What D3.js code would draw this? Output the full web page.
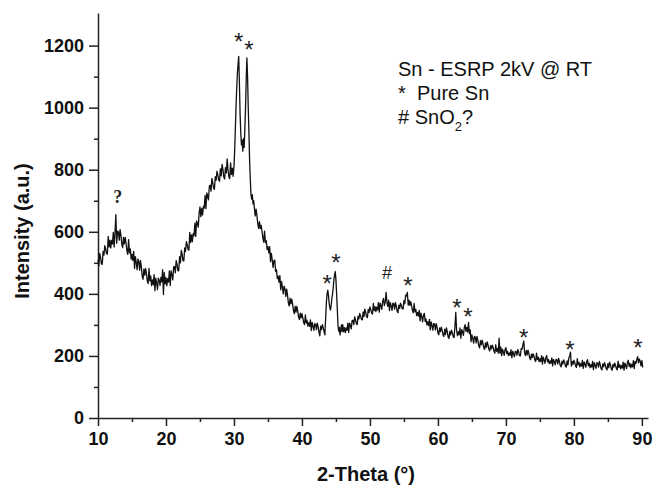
<!DOCTYPE html>
<html>
<head>
<meta charset="utf-8">
<script src="https://cdn.jsdelivr.net/npm/d3@7"></script>
<style>
    body { margin: 0; background: #fff; }
    #chart-area { width: 655px; height: 486px; }
</style>
</head>
<body>
<div id="chart-area"></div>
<script>
// XRD scan: [2-theta (deg), intensity (a.u.)]
let scan = [
    [10.000,510],[10.125,490],[10.250,530],[10.375,518],[10.500,497],[10.625,495],[10.750,537],[10.875,525],
    [11.000,555],[11.125,545],[11.250,530],[11.375,528],[11.500,585],[11.625,551],[11.750,573],[11.875,548],
    [12.000,572],[12.125,561],[12.250,598],[12.375,551],[12.500,597],[12.625,655],[12.750,563],[12.875,602],
    [13.000,600],[13.125,573],[13.250,607],[13.375,588],[13.500,560],[13.625,549],[13.750,582],[13.875,561],
    [14.000,582],[14.125,563],[14.250,539],[14.375,527],[14.500,575],[14.625,532],[14.750,545],[14.875,512],
    [15.000,527],[15.125,508],[15.250,537],[15.375,482],[15.500,520],[15.625,501],[15.750,478],[15.875,512],
    [16.000,505],[16.125,476],[16.250,507],[16.375,487],[16.500,457],[16.625,447],[16.750,480],[16.875,460],
    [17.000,482],[17.125,465],[17.250,442],[17.375,433],[17.500,482],[17.625,442],[17.750,458],[17.875,427],
    [18.000,445],[18.125,429],[18.250,462],[18.375,410],[18.500,451],[18.625,435],[18.750,414],[18.875,451],
    [19.000,444],[19.125,427],[19.250,453],[19.375,439],[19.500,478],[19.625,398],[19.750,469],[19.875,432],
    [20.000,452],[20.125,426],[20.250,449],[20.375,438],[20.500,474],[20.625,427],[20.750,474],[20.875,462],
    [21.000,445],[21.125,487],[21.250,488],[21.375,468],[21.500,507],[21.625,496],[21.750,475],[21.875,474],
    [22.000,520],[22.125,500],[22.250,540],[22.375,528],[22.500,507],[22.625,506],[22.750,548],[22.875,537],
    [23.000,568],[23.125,558],[23.250,543],[23.375,541],[23.500,598],[23.625,566],[23.750,590],[23.875,568],
    [24.000,594],[24.125,587],[24.250,628],[24.375,585],[24.500,635],[24.625,627],[24.750,615],[24.875,660],
    [25.000,680],[25.125,649],[25.250,675],[25.375,654],[25.500,682],[25.625,676],[25.750,717],[25.875,675],
    [26.000,725],[26.125,716],[26.250,703],[26.375,747],[26.500,750],[26.625,731],[26.750,772],[26.875,760],
    [27.000,740],[27.125,737],[27.250,778],[27.375,766],[27.500,795],[27.625,783],[27.750,767],[27.875,763],
    [28.000,803],[28.125,780],[28.250,817],[28.375,801],[28.500,777],[28.625,770],[28.750,807],[28.875,790],
    [29.000,835],[29.125,799],[29.250,778],[29.375,771],[29.500,822],[29.625,785],[29.750,805],[29.875,779],
    [30.0,810],[30.1,860],[30.2,930],[30.3,1000],[30.4,1060],[30.5,1110],[30.6,1140],[30.7,1165],
    [30.8,1080],[30.9,980],[31.0,920],[31.1,880],[31.2,895],[31.3,860],[31.4,900],[31.5,872],
    [31.6,930],[31.7,1000],[31.8,1090],[31.9,1160],[32.0,1100],[32.1,1000],[32.2,920],[32.3,830],
    [32.4,770],[32.5,720],[32.6,705],[32.7,720],[32.8,690],[32.9,700],
    [33.000,677],[33.125,651],[33.250,673],[33.375,652],[33.500,626],[33.625,611],[33.750,633],[33.875,610],
    [34.000,621],[34.125,602],[34.250,580],[34.375,567],[34.500,602],[34.625,565],[34.750,572],[34.875,543],
    [35.000,552],[35.125,532],[35.250,552],[35.375,504],[35.500,530],[35.625,510],[35.750,485],[35.875,507],
    [36.000,509],[36.125,472],[36.250,478],[36.375,449],[36.500,457],[36.625,438],[36.750,459],[36.875,413],
    [37.000,440],[37.125,422],[37.250,400],[37.375,425],[37.500,417],[37.625,392],[37.750,415],[37.875,396],
    [38.000,371],[38.125,361],[38.250,386],[38.375,368],[38.500,383],[38.625,367],[38.750,346],[38.875,336],
    [39.000,360],[39.125,341],[39.250,360],[39.375,345],[39.500,326],[39.625,317],[39.750,338],[39.875,323],
    [40.000,336],[40.125,323],[40.250,308],[40.375,301],[40.500,332],[40.625,306],[40.750,315],[40.875,296],
    [41.000,307],[41.125,295],[41.250,316],[41.375,282],[41.500,308],[41.625,296],[41.750,282],[41.875,304],
    [42.000,302],[42.125,285],[42.250,306],[42.375,294],[42.500,277],[42.625,265],[42.750,296],[42.875,285],
    [43.000,301],[43.125,291],[43.250,279],[43.375,268],
    [43.5,330],[43.6,375],[43.7,400],[43.8,412],[43.9,395],[44.0,370],[44.1,355],[44.2,348],
    [44.3,365],[44.4,385],[44.5,400],[44.6,420],[44.7,445],[44.8,462],[44.9,472],[45.0,445],
    [45.1,400],[45.2,350],[45.3,300],[45.4,280],[45.5,292],[45.6,268],[45.7,285],[45.8,300],[45.9,278],
    [46.000,301],[46.125,278],[46.250,291],[46.375,275],[46.500,290],[46.625,282],[46.750,306],[46.875,276],
    [47.000,306],[47.125,298],[47.250,287],[47.375,314],[47.500,315],[47.625,301],[47.750,326],[47.875,317],
    [48.000,304],[48.125,301],[48.250,328],[48.375,319],[48.500,337],[48.625,329],[48.750,318],[48.875,316],
    [49.000,342],[49.125,327],[49.250,351],[49.375,341],[49.500,327],[49.625,324],[49.750,350],[49.875,340],
    [50.000,358],[50.125,349],[50.250,338],[50.375,335],[50.500,369],[50.625,346],[50.750,359],[50.875,343],
    [51.000,357],[51.125,348],[51.250,372],[51.375,341],[51.500,370],[51.625,362],[51.750,350],[51.875,376],
    [52.000,385],[52.125,362],[52.250,374],[52.375,405],[52.500,372],[52.625,360],[52.750,380],[52.875,346],
    [53.000,372],[53.125,361],[53.250,347],[53.375,370],[53.500,368],[53.625,351],[53.750,372],[53.875,361],
    [54.000,344],[54.125,339],[54.250,364],[54.375,353],[54.500,370],[54.625,363],[54.750,352],[54.875,351],
    [55.000,378],[55.125,368],[55.250,396],[55.375,393],[55.500,405],[55.625,364],[55.750,380],[55.875,363],
    [56.000,375],[56.125,362],[56.250,346],[56.375,339],[56.500,369],[56.625,342],[56.750,350],[56.875,330],
    [57.000,340],[57.125,328],[57.250,347],[57.375,313],[57.500,338],[57.625,326],[57.750,310],[57.875,332],
    [58.000,337],[58.125,311],[58.250,319],[58.375,300],[58.500,310],[58.625,298],[58.750,318],[58.875,284],
    [59.000,310],[59.125,298],[59.250,283],[59.375,305],[59.500,302],[59.625,284],[59.750,304],[59.875,292],
    [60.000,274],[60.125,268],[60.250,290],[60.375,278],[60.500,293],[60.625,282],[60.750,268],[60.875,263],
    [61.000,286],[61.125,269],[61.250,290],[61.375,278],[61.500,261],[61.625,256],[61.750,279],[61.875,268],
    [62.000,283],[62.125,274],[62.250,262],[62.375,259],[62.500,294],[62.625,340],[62.750,282],[62.875,265],
    [63.000,278],[63.125,268],[63.250,290],[63.375,257],[63.500,285],[63.625,277],[63.750,266],[63.875,291],
    [64.000,301],[64.125,279],[64.250,292],[64.375,277],[64.500,308],[64.625,272],[64.750,284],[64.875,246],
    [65.000,268],[65.125,256],[65.250,241],[65.375,263],[65.500,260],[65.625,242],[65.750,263],[65.875,250],
    [66.000,233],[66.125,226],[66.250,249],[66.375,236],[66.500,251],[66.625,240],[66.750,226],[66.875,221],
    [67.000,242],[67.125,228],[67.250,245],[67.375,235],[67.500,221],[67.625,216],[67.750,233],[67.875,223],
    [68.000,235],[68.125,227],[68.250,215],[68.375,209],[68.500,236],[68.625,215],[68.750,224],[68.875,209],
    [69.000,257],[69.125,209],[69.250,228],[69.375,201],[69.500,222],[69.625,213],[69.750,202],[69.875,221],
    [70.000,227],[70.125,207],[70.250,215],[70.375,201],[70.500,210],[70.625,202],[70.750,220],[70.875,194],
    [71.000,215],[71.125,207],[71.250,197],[71.375,215],[71.500,214],[71.625,202],[71.750,221],[71.875,213],
    [72.000,201],[72.125,200],[72.250,224],[72.375,222],[72.500,236],[72.625,248],[72.750,210],[72.875,201],
    [73.000,218],[73.125,203],[73.250,219],[73.375,208],[73.500,193],[73.625,188],[73.750,206],[73.875,195],
    [74.000,207],[74.125,199],[74.250,187],[74.375,182],[74.500,209],[74.625,188],[74.750,196],[74.875,182],
    [75.000,191],[75.125,182],[75.250,201],[75.375,174],[75.500,196],[75.625,187],[75.750,176],[75.875,195],
    [76.000,201],[76.125,181],[76.250,189],[76.375,175],[76.500,184],[76.625,176],[76.750,194],[76.875,168],
    [77.000,189],[77.125,181],[77.250,171],[77.375,189],[77.500,188],[77.625,174],[77.750,192],[77.875,182],
    [78.000,169],[78.125,165],[78.250,183],[78.375,174],[78.500,187],[78.625,180],[78.750,168],[78.875,164],
    [79.000,184],[79.125,171],[79.250,193],[79.375,200],[79.500,212],[79.625,167],[79.750,182],[79.875,173],
    [80.000,186],[80.125,179],[80.250,167],[80.375,163],[80.500,191],[80.625,171],[80.750,180],[80.875,165],
    [81.000,175],[81.125,167],[81.250,186],[81.375,160],[81.500,181],[81.625,173],[81.750,163],[81.875,181],
    [82.000,188],[82.125,168],[82.250,177],[82.375,162],[82.500,172],[82.625,164],[82.750,182],[82.875,156],
    [83.000,178],[83.125,170],[83.250,160],[83.375,178],[83.500,177],[83.625,164],[83.750,182],[83.875,172],
    [84.000,159],[84.125,155],[84.250,174],[84.375,165],[84.500,178],[84.625,170],[84.750,159],[84.875,155],
    [85.000,175],[85.125,162],[85.250,180],[85.375,171],[85.500,158],[85.625,154],[85.750,173],[85.875,164],
    [86.000,177],[86.125,170],[86.250,159],[86.375,155],[86.500,183],[86.625,163],[86.750,172],[86.875,158],
    [87.000,169],[87.125,161],[87.250,180],[87.375,154],[87.500,177],[87.625,169],[87.750,159],[87.875,178],
    [88.000,186],[88.125,166],[88.250,176],[88.375,162],[88.500,173],[88.625,165],[88.750,185],[88.875,159],
    [89.000,182],[89.125,176],[89.250,188],[89.375,198],[89.500,178],[89.625,190],[89.750,183],[89.875,168],
    [90.000,185],[90.125,163]
];

// peak markers: [2-theta, intensity, symbol]
let peakMarks = [
    [12.9, 713, "?"],
    [30.7, 1229, "*"], [32.2, 1203, "*"],
    [43.7, 448, "*"], [45.0, 516, "*"],
    [52.5, 468, "#"], [55.6, 442, "*"],
    [62.8, 371, "*"], [64.4, 342, "*"],
    [72.6, 274, "*"], [79.4, 235, "*"], [89.4, 242, "*"]
];

let xMajor = [10, 20, 30, 40, 50, 60, 70, 80, 90];
let xMinor = [15, 25, 35, 45, 55, 65, 75, 85];
let yMajor = [0, 200, 400, 600, 800, 1000, 1200];
let yMinor = [100, 300, 500, 700, 900, 1100];

const sansFont = "'Liberation Sans', Arial, sans-serif";

class XrdPlot {
    constructor(parentElement, data) {
        this.parentElement = parentElement;
        this.data = data;
        this.initVis();
    }

    initVis() {
        let vis = this;

        vis.svg = d3.select("#" + vis.parentElement).append("svg")
            .attr("width", 655)
            .attr("height", 486)
            .style("font-family", sansFont);

        // scales
        vis.x = d3.scaleLinear().domain([10, 90.9]).range([98, 648]);
        vis.y = d3.scaleLinear().domain([0, 1305]).range([418, 13]);

        // minor ticks (no labels)
        vis.svg.append("g")
            .attr("transform", "translate(0,418)")
            .call(d3.axisBottom(vis.x).tickValues(xMinor).tickSize(4).tickFormat(""))
            .call(g => g.select(".domain").remove());
        vis.svg.append("g")
            .attr("transform", "translate(98,0)")
            .call(d3.axisLeft(vis.y).tickValues(yMinor).tickSize(4).tickFormat(""))
            .call(g => g.select(".domain").remove());

        // major ticks
        vis.xAxis = vis.svg.append("g")
            .attr("transform", "translate(0,418)")
            .call(d3.axisBottom(vis.x).tickValues(xMajor).tickSize(8).tickSizeOuter(0).tickPadding(6));
        vis.yAxis = vis.svg.append("g")
            .attr("transform", "translate(98,0)")
            .call(d3.axisLeft(vis.y).tickValues(yMajor).tickFormat(d3.format("d"))
                .tickSize(9).tickSizeOuter(0).tickPadding(5));

        vis.svg.selectAll(".tick line").attr("stroke", "#222").attr("stroke-width", 1.5);
        vis.svg.selectAll(".domain").attr("stroke", "#222").attr("stroke-width", 1.5);
        vis.svg.selectAll(".tick text")
            .style("font-family", sansFont)
            .style("font-size", "18px")
            .style("font-weight", "bold")
            .attr("fill", "#111");

        // axis titles
        vis.svg.append("text")
            .text("2-Theta (°)")
            .attr("x", 366)
            .attr("y", 481)
            .attr("text-anchor", "middle")
            .attr("fill", "#111")
            .style("font-size", "20px")
            .style("font-weight", "bold");

        vis.svg.append("text")
            .text("Intensity (a.u.)")
            .attr("transform", "translate(29,231) rotate(-90)")
            .attr("text-anchor", "middle")
            .attr("fill", "#111")
            .style("font-size", "20px")
            .style("font-weight", "bold");

        // legend text
        vis.legend = vis.svg.append("g")
            .attr("transform", "translate(398,0)")
            .style("font-size", "20px")
            .attr("fill", "#111");
        vis.legend.append("text").attr("y", 76).text("Sn - ESRP 2kV @ RT");
        let l2 = vis.legend.append("text").attr("y", 100);
        l2.append("tspan").text("*");
        l2.append("tspan").attr("x", 19).text("Pure Sn");
        let l3 = vis.legend.append("text").attr("y", 124);
        l3.append("tspan").text("# SnO");
        l3.append("tspan").attr("dy", 7).style("font-size", "13px").text("2");
        l3.append("tspan").attr("dy", -7).text("?");

        vis.drawLine = d3.line()
            .x(d => vis.x(d[0]))
            .y(d => vis.y(d[1]));

        vis.updateVis();
    }

    updateVis() {
        let vis = this;

        vis.svg.append("path")
            .datum(vis.data)
            .attr("fill", "none")
            .attr("stroke", "#111")
            .attr("stroke-width", 1.3)
            .attr("stroke-linejoin", "round")
            .attr("d", vis.drawLine);

        // peak markers
        vis.svg.selectAll(".peak-mark")
            .data(peakMarks)
            .enter()
            .append("text")
            .attr("class", "peak-mark")
            .attr("x", d => vis.x(d[0]))
            .attr("y", d => vis.y(d[1]))
            .attr("text-anchor", "middle")
            .attr("fill", "#222")
            .style("font-family", d => d[2] == "?" ? "'Liberation Serif', 'Times New Roman', serif" : sansFont)
            .style("font-weight", d => d[2] == "?" ? "bold" : "normal")
            .style("font-size", d => d[2] == "*" ? "24px" : "18px")
            .attr("dy", d => d[2] == "*" ? "0.55em" : "0.35em")
            .text(d => d[2]);
    }
}

new XrdPlot("chart-area", scan);
</script>
</body>
</html>
